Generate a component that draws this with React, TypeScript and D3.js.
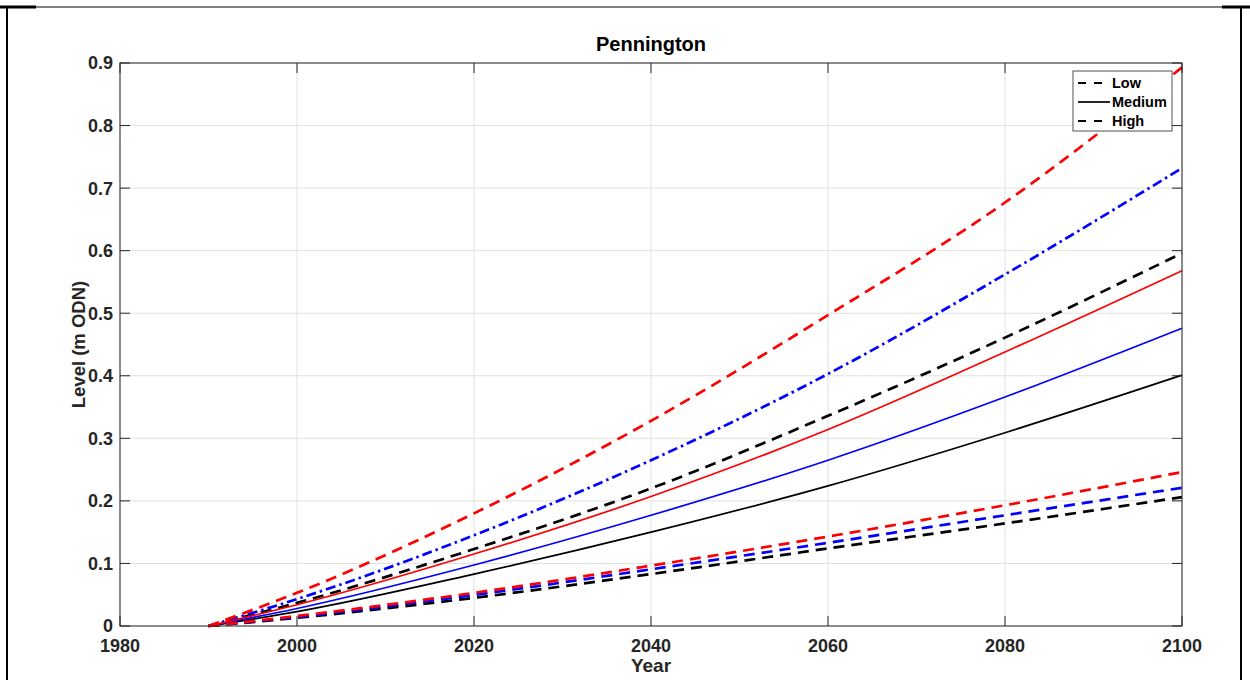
import React from "react";
import * as d3 from "d3";

const years = [1990, 2000, 2020, 2040, 2060, 2080, 2100];

const redHigh = [0, 0.053, 0.18, 0.328, 0.497, 0.677, 0.893];
const blueHigh = [0, 0.043, 0.145, 0.265, 0.403, 0.562, 0.732];
const blackHigh = [0, 0.037, 0.123, 0.22, 0.336, 0.461, 0.596];
const redMedium = [0, 0.034, 0.115, 0.207, 0.314, 0.438, 0.568];
const blueMedium = [0, 0.028, 0.0975, 0.177, 0.265, 0.366, 0.476];
const blackMedium = [0, 0.023, 0.083, 0.15, 0.224, 0.309, 0.401];
const redLow = [0, 0.016, 0.053, 0.0965, 0.143, 0.193, 0.246];
const blueLow = [0, 0.0145, 0.0496, 0.0906, 0.133, 0.177, 0.221];
const blackLow = [0, 0.013, 0.045, 0.083, 0.124, 0.164, 0.206];

const xTicks = [1980, 2000, 2020, 2040, 2060, 2080, 2100];
const yTicks = [0, 0.1, 0.2, 0.3, 0.4, 0.5, 0.6, 0.7, 0.8, 0.9];

const legendItems = ["Low", "Medium", "High"];

const W = 1250;
const H = 680;
const L = 120;
const R = 1182;
const T = 63;
const B = 626;

const DASH = "11,7";
const DASHDOT = "10,4,2.5,4";

type S = { values: number[]; color: string; dash: string | null; width: number };

const series: S[] = [
  { values: blackLow, color: "#000000", dash: DASH, width: 2.7 },
  { values: blackMedium, color: "#000000", dash: null, width: 1.7 },
  { values: blackHigh, color: "#000000", dash: DASH, width: 2.7 },
  { values: blueLow, color: "#0000ff", dash: DASH, width: 2.7 },
  { values: blueMedium, color: "#0000ff", dash: null, width: 1.7 },
  { values: blueHigh, color: "#0000ff", dash: DASHDOT, width: 2.7 },
  { values: redLow, color: "#ff0000", dash: DASH, width: 2.7 },
  { values: redMedium, color: "#ff0000", dash: null, width: 1.7 },
  { values: redHigh, color: "#ff0000", dash: DASH, width: 2.7 },
];

const FONT = "'Liberation Sans', Arial, Helvetica, sans-serif";

export default function App() {
  const x = d3.scaleLinear().domain([1980, 2100]).range([L, R]);
  const y = d3.scaleLinear().domain([0, 0.9]).range([B, T]);
  const line = d3
    .line<number>()
    .x((_, i) => x(years[i]))
    .y((d) => y(d))
    .curve(d3.curveMonotoneX);

  const axisColor = "#262626";
  const gridColor = "#e0e0e0";
  const tickLen = 10;

  const lx = 1073;
  const ly = 71;
  const lw = 99;
  const lh = 60;

  return (
    <svg
      width={W}
      height={H}
      style={{ position: "absolute", left: 0, top: 0, background: "#fff" }}
      fontFamily={FONT}
    >
      <rect x={0} y={0} width={W} height={H} fill="#fff" />
      {/* outer frame */}
      <line x1={7} y1={7} x2={1242} y2={7} stroke="#000" strokeWidth={1.2} />
      <line x1={0} y1={7} x2={36} y2={7} stroke="#000" strokeWidth={3} />
      <line x1={1222} y1={7} x2={1250} y2={7} stroke="#000" strokeWidth={3} />
      <line x1={7} y1={7} x2={7} y2={H} stroke="#000" strokeWidth={2} />
      <line x1={1241} y1={7} x2={1241} y2={H} stroke="#000" strokeWidth={2} />

      {/* grid */}
      {xTicks.map((t) => (
        <line key={"gx" + t} x1={x(t)} x2={x(t)} y1={T} y2={B} stroke={gridColor} strokeWidth={1} />
      ))}
      {yTicks.map((t) => (
        <line key={"gy" + t} x1={L} x2={R} y1={y(t)} y2={y(t)} stroke={gridColor} strokeWidth={1} />
      ))}

      {/* series */}
      {series.map((s, i) => (
        <path
          key={i}
          d={line(s.values) || ""}
          fill="none"
          stroke={s.color}
          strokeWidth={s.width}
          strokeDasharray={s.dash || undefined}
        />
      ))}

      {/* axes box */}
      <rect x={L} y={T} width={R - L} height={B - T} fill="none" stroke={axisColor} strokeWidth={1} />
      {xTicks.map((t) => (
        <g key={"tx" + t}>
          <line x1={x(t)} x2={x(t)} y1={B} y2={B - tickLen} stroke={axisColor} />
          <line x1={x(t)} x2={x(t)} y1={T} y2={T + tickLen} stroke={axisColor} />
          <text
            x={x(t)}
            y={652}
            textAnchor="middle"
            fontSize={18}
            fontWeight="bold"
            fill={axisColor}
          >
            {t}
          </text>
        </g>
      ))}
      {yTicks.map((t) => (
        <g key={"ty" + t}>
          <line x1={L} x2={L + tickLen} y1={y(t)} y2={y(t)} stroke={axisColor} />
          <line x1={R} x2={R - tickLen} y1={y(t)} y2={y(t)} stroke={axisColor} />
          <text
            x={113}
            y={y(t)}
            dy="0.36em"
            textAnchor="end"
            fontSize={18}
            fontWeight="bold"
            fill={axisColor}
          >
            {d3.format("")(+t.toFixed(1))}
          </text>
        </g>
      ))}

      {/* titles */}
      <text x={(L + R) / 2} y={51} textAnchor="middle" fontSize={20} fontWeight="bold" fill="#000">
        Pennington
      </text>
      <text x={(L + R) / 2} y={672} textAnchor="middle" fontSize={19} fontWeight="bold" fill={axisColor}>
        Year
      </text>
      <text
        transform={`translate(85, ${(T + B) / 2}) rotate(-90)`}
        textAnchor="middle"
        fontSize={18.5}
        fontWeight="bold"
        fill={axisColor}
      >
        Level (m ODN)
      </text>

      {/* legend */}
      <rect x={lx} y={ly} width={lw} height={lh} fill="#fff" stroke={axisColor} strokeWidth={0.8} />
      {legendItems.map((name, i) => {
        const cy = ly + 12 + i * 19;
        return (
          <g key={name}>
            <line
              x1={lx + 5}
              x2={lx + 37}
              y1={cy}
              y2={cy}
              stroke="#000"
              strokeWidth={name === "Medium" ? 1.7 : 2.2}
              strokeDasharray={name === "Medium" ? undefined : "8,8"}
            />
            <text x={lx + 39} y={cy} dy="0.36em" fontSize={14.5} fontWeight="bold" fill="#000">
              {name}
            </text>
          </g>
        );
      })}
    </svg>
  );
}
